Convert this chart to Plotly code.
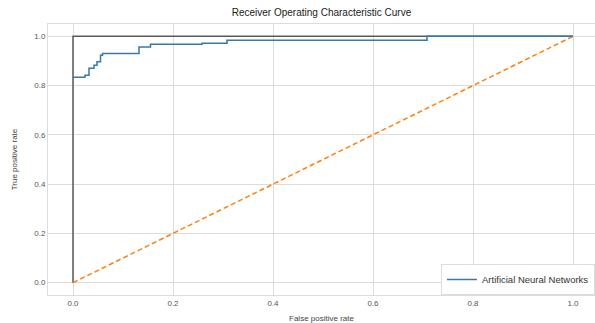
import plotly.graph_objects as go

fpr = [0.0, 0.024, 0.024, 0.032, 0.032, 0.042, 0.042, 0.048, 0.048, 0.055, 0.055, 0.059, 0.059,
       0.132, 0.132, 0.155, 0.155, 0.258, 0.258, 0.308, 0.308, 0.708, 0.708, 1.0]
tpr = [0.834, 0.834, 0.842, 0.842, 0.870, 0.870, 0.883, 0.883, 0.897, 0.897, 0.923, 0.923, 0.930,
       0.930, 0.957, 0.957, 0.968, 0.968, 0.972, 0.972, 0.984, 0.984, 1.0, 1.0]
perfect_x = [0, 0, 1]
perfect_y = [0, 1, 1]
chance_x = [0, 1]
chance_y = [0, 1]
ticks = [0.0, 0.2, 0.4, 0.6, 0.8, 1.0]
tick_text = ["0.0", "0.2", "0.4", "0.6", "0.8", "1.0"]

fig = go.Figure()
fig.add_trace(go.Scatter(x=perfect_x, y=perfect_y, mode="lines",
                         line=dict(color="#5a5a5a", width=1.5), showlegend=False))
fig.add_trace(go.Scatter(x=chance_x, y=chance_y, mode="lines",
                         line=dict(color="#ff7f0e", width=1.5, dash="5px,3px"), showlegend=False))
fig.add_trace(go.Scatter(x=fpr, y=tpr, mode="lines", name="Artificial Neural Networks",
                         line=dict(color="#3a78a8", width=1.5)))

fig.update_layout(
    width=595, height=323,
    margin=dict(l=48, r=0, t=24, b=28, autoexpand=False),
    paper_bgcolor="white", plot_bgcolor="white",
    font=dict(family="Liberation Sans, Arial, sans-serif", color="#333333"),
    title=dict(text="Receiver Operating Characteristic Curve", x=0.5, xanchor="center",
               xref="paper", y=1 - 12 / 323, yref="container", yanchor="middle",
               font=dict(size=10, color="#222222")),
    legend=dict(x=1.0, y=0.0, xanchor="right", yanchor="bottom",
                bgcolor="white", bordercolor="#dddddd", borderwidth=1,
                font=dict(size=9.5, color="#333333"), itemwidth=30,
                tracegroupgap=0),
    showlegend=True,
)
fig.update_xaxes(range=[-0.05, 1.044], tickvals=ticks, ticktext=tick_text,
                 showgrid=True, gridcolor="#dcdcdc", gridwidth=1, zeroline=False,
                 showline=True, linecolor="#dcdcdc", mirror=True, automargin=False,
                 tickfont=dict(size=8, color="#555555"), ticks="",
                 title=dict(text="False positive rate", font=dict(size=8, color="#444444")))
fig.update_yaxes(range=[-0.05, 1.05], tickvals=ticks, ticktext=tick_text,
                 showgrid=True, gridcolor="#dcdcdc", gridwidth=1, zeroline=False,
                 showline=True, linecolor="#dcdcdc", mirror=True, automargin=False,
                 tickfont=dict(size=8, color="#555555"), ticks="",
                 title=dict(text="True positive rate", font=dict(size=8, color="#444444")))

fig.write_html("out.html", config={"displayModeBar": False},
               post_script="document.body.style.margin='0';document.body.style.padding='0';")
